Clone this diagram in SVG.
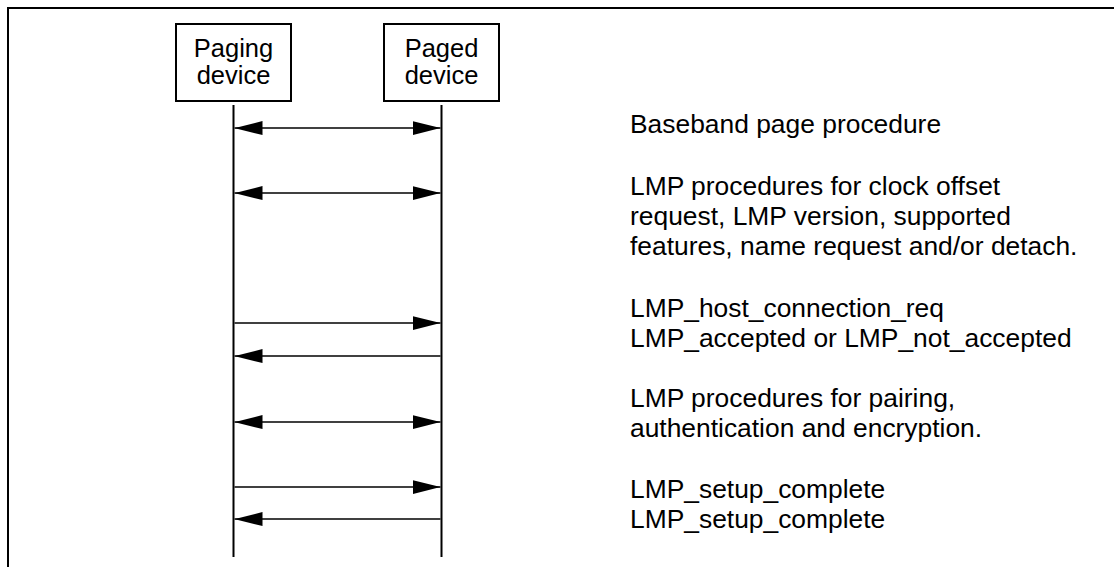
<svg xmlns="http://www.w3.org/2000/svg" width="1114" height="567" viewBox="0 0 1114 567">
<defs>
<style>
.t{font-family:"Liberation Sans",Arial,sans-serif;font-size:26.4px;fill:#000}
.b{font-size:25.5px}
.c{text-anchor:middle}
.box{fill:#fff;stroke:#000;stroke-width:2}
.life{stroke:#000;stroke-width:2}
.msg{stroke:#000;stroke-width:1.5;fill:none}
</style>
<marker id="ah" viewBox="0 0 28 14" refX="28" refY="7" markerWidth="28" markerHeight="14" markerUnits="userSpaceOnUse" orient="auto-start-reverse">
<path d="M0,0 L28,7 L0,14 Z" fill="#000"/>
</marker>
</defs>
<rect width="1114" height="567" fill="#fff"/>
<g id="frame">
<path d="M8,567 V8 H1114" fill="none" stroke="#000" stroke-width="2"/>
</g>
<g id="paging">
<rect class="box" x="176" y="24" width="115" height="77"/>
<text class="t b c" x="233.5" y="57">Paging</text>
<text class="t b c" x="233.5" y="84">device</text>
<line class="life" x1="233.5" y1="105" x2="233.5" y2="557"/>
</g>
<g id="paged">
<rect class="box" x="384" y="24" width="115" height="77"/>
<text class="t b c" x="441.5" y="57">Paged</text>
<text class="t b c" x="441.5" y="84">device</text>
<line class="life" x1="441.5" y1="105" x2="441.5" y2="557"/>
</g>
<g id="connectors">
<line class="msg" x1="234.5" y1="128" x2="440.5" y2="128" marker-start="url(#ah)" marker-end="url(#ah)"/>
<line class="msg" x1="234.5" y1="193" x2="440.5" y2="193" marker-start="url(#ah)" marker-end="url(#ah)"/>
<line class="msg" x1="234.5" y1="323" x2="440.5" y2="323" marker-end="url(#ah)"/>
<line class="msg" x1="440.5" y1="356" x2="234.5" y2="356" marker-end="url(#ah)"/>
<line class="msg" x1="234.5" y1="422" x2="440.5" y2="422" marker-start="url(#ah)" marker-end="url(#ah)"/>
<line class="msg" x1="234.5" y1="487" x2="440.5" y2="487" marker-end="url(#ah)"/>
<line class="msg" x1="440.5" y1="519" x2="234.5" y2="519" marker-end="url(#ah)"/>
</g>
<g id="labels">
<text class="t" x="630" y="133">Baseband page procedure</text>
<text class="t" x="630" y="195">LMP procedures for clock offset</text>
<text class="t" x="630" y="225">request, LMP version, supported</text>
<text class="t" x="630" y="255">features, name request and/or detach.</text>
<text class="t" x="630" y="317">LMP_host_connection_req</text>
<text class="t" x="630" y="347">LMP_accepted or LMP_not_accepted</text>
<text class="t" x="630" y="407">LMP procedures for pairing,</text>
<text class="t" x="630" y="437">authentication and encryption.</text>
<text class="t" x="630" y="498">LMP_setup_complete</text>
<text class="t" x="630" y="528">LMP_setup_complete</text>
</g>
</svg>
